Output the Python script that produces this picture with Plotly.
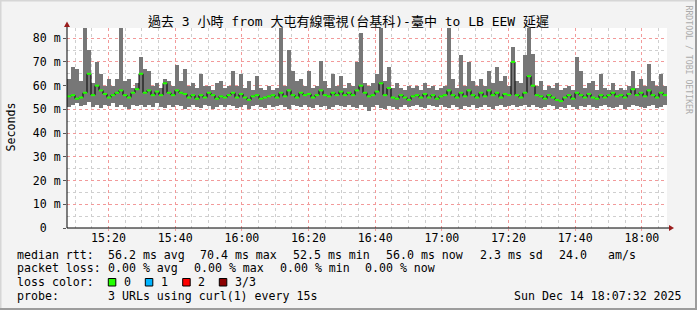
import pandas as pd
import plotly.graph_objects as go

# ---------------- data ----------------
start_time = "2025-12-14 15:07:32"
step_seconds = 72
title_text = "過去 3 小時 from 大屯有線電視(台基科)-臺中 to LB EEW 延遲"

rtt_max_ms = [
    63, 68, 67, 62, 84.5, 75, 61, 70, 65, 60,
    63, 60, 63, 84.5, 62, 63, 59, 61, 72, 67,
    66, 60, 61, 59, 63, 62, 60, 68.5, 62, 67,
    60, 61, 59, 65, 60, 60, 58, 61, 62, 59,
    60, 66, 60, 65, 59, 62, 58, 64, 59, 58,
    60, 58, 59, 84.5, 60, 75, 66, 62, 63, 60,
    66, 59, 60, 70.5, 62, 59, 65, 60, 64, 59,
    61, 60, 70, 82, 61, 60, 61, 65, 84.5, 62,
    68, 59, 61, 59, 58, 60, 59, 60, 58, 61,
    59, 60, 58, 59, 60, 84.5, 63, 59, 73, 60,
    70, 62, 60, 63, 60, 66, 61, 68, 62, 64,
    60, 76.5, 62, 61, 73, 84.5, 73.5, 60, 62, 58,
    60, 59, 61, 58, 59, 60, 58, 72, 66, 59,
    61, 62, 58, 65, 59, 58, 61, 58, 59, 58,
    60, 66, 59, 63, 60, 69, 62, 60, 65, 60,
]
rtt_min_ms = [
    51, 52, 52.5, 51.5, 52, 53, 51, 52, 50.5, 52,
    51.5, 52.5, 51, 52, 51, 50, 52, 51.5, 52, 51,
    52, 51, 52.5, 51, 50.5, 52, 51, 52, 51.5, 50,
    51, 52, 51, 50.5, 52, 51.5, 50, 51, 52, 51,
    52, 51.5, 50.5, 51, 52, 50, 51.5, 52, 51, 50.5,
    52, 51, 51.5, 52, 51, 50, 52, 51.5, 51, 52,
    51, 50.5, 52, 51, 51.5, 50, 51, 52, 51.5, 51,
    52, 51, 50.5, 52, 51, 49.5, 51, 52, 50.5, 50,
    51.5, 51, 50, 51, 52, 51, 51.5, 52, 51, 50.5,
    52, 51.5, 51, 52, 51, 50.5, 52, 51, 50, 51.5,
    51, 52, 50.5, 51, 52, 51, 50, 51.5, 52, 51,
    51.5, 52, 51, 51.5, 52, 51, 52, 51, 50.5, 51,
    52, 51.5, 50, 51, 50.5, 52, 51, 50, 51.5, 51,
    52, 51, 50.5, 51.5, 52, 51, 50.5, 51, 52, 50,
    51, 52, 51.5, 51, 50.5, 51.5, 52, 50.5, 51, 52,
]
rtt_median_ms = [
    55.5, 56, 54.5, 55, 57, 65, 56, 60, 58, 56.5,
    55, 56, 57, 58, 56, 55, 57, 58.5, 65, 57,
    58, 56, 57.5, 56, 61, 57, 56, 58, 57, 56.5,
    55, 56, 54.5, 56, 55, 57, 56, 54.5, 55.5, 55,
    56, 57, 55, 56.5, 55, 54, 55.5, 56, 54.5, 55,
    55.5, 56, 55, 57, 55.5, 58, 56, 55, 57, 56,
    56.5, 55, 56, 58, 56, 55.5, 57, 56, 57.5, 56,
    57, 56, 58, 60, 57, 55.5, 56, 57.5, 61, 56,
    59, 55, 54.5, 56, 55, 54, 55.5, 56, 55, 56.5,
    55, 56, 54.5, 55.5, 56, 58, 56, 55, 57, 55.5,
    58, 56, 55, 57, 55.5, 58, 56, 57, 55, 56.5,
    56, 70, 56, 55, 57, 64, 60, 56, 55.5, 54.5,
    56, 55, 54, 53.5, 55, 56, 54.5, 57, 56, 55,
    56.5, 55, 54.5, 56, 55, 56, 57, 55.5, 56, 55,
    56.5, 58.5, 56, 57, 55.5, 58, 56, 55, 57, 56,
]
y_tick_values = [0, 10, 20, 30, 40, 50, 60, 70, 80]
y_tick_labels = ["0\u00a0\u00a0", "10 m", "20 m", "30 m", "40 m", "50 m", "60 m", "70 m", "80 m"]

legend_rtt = [("median rtt:", 16), ("56.2 ms avg", 106.5), ("70.4 ms max", 199.2),
              ("52.5 ms min", 292), ("56.0 ms now", 385.2), ("2.3 ms sd", 478.5),
              ("24.0", 557.5), ("am/s", 606.6)]
legend_loss = [("packet loss:", 16), ("0.00 % avg", 106.5), ("0.00 % max", 192.5),
               ("0.00 % min", 278.5), ("0.00 % now", 364.2)]
loss_colors = [("0", "#22ff00"), ("1", "#00b4ff"), ("2", "#ff0000"), ("3/3", "#8c0000")]
loss_box_x = [108.3, 145.3, 182.7, 219.3]
loss_label_x = [122.6, 160, 197.3, 234.3]
probe_text = "3 URLs using curl(1) every 15s"
date_text = "Sun Dec 14 18:07:32 2025"

# ---------------- geometry helpers ----------------
W, H = 697, 310
PL, PR, PT, PB = 67, 667, 28, 228


def fx(px):
    return (px - PL) / (PR - PL)


def fy(py):
    return (PB - py) / (PB - PT)


n = len(rtt_max_ms)
t0 = pd.Timestamp(start_time)
centers = [t0 + pd.Timedelta(seconds=step_seconds * i + step_seconds / 2) for i in range(n)]
t_end = t0 + pd.Timedelta(seconds=step_seconds * n)

FONT = "DejaVu Sans Mono, Noto Sans CJK TC, monospace"
FS = 11.6

fig = go.Figure()
fig.add_trace(go.Bar(
    x=centers,
    y=[mx - mn for mx, mn in zip(rtt_max_ms, rtt_min_ms)],
    base=rtt_min_ms,
    width=step_seconds * 1000,
    marker=dict(color="#777777", line=dict(width=0)),
    hoverinfo="skip",
))
fig.add_trace(go.Scatter(
    x=centers, y=rtt_median_ms, mode="lines",
    line=dict(color="#000000", width=1, shape="hvh"),
    hoverinfo="skip",
))
fig.add_trace(go.Scatter(
    x=centers, y=rtt_median_ms, mode="markers",
    marker=dict(symbol="line-ew", size=3, line=dict(width=2, color="#22ff00")),
    hoverinfo="skip",
))

fig.update_layout(
    width=W, height=H,
    margin=dict(l=PL, r=W - PR, t=PT, b=H - PB),
    paper_bgcolor="#f3f3f3",
    plot_bgcolor="#ffffff",
    showlegend=False,
    bargap=0,
    font=dict(family=FONT, size=FS, color="#000000"),
)
fig.update_xaxes(
    type="date",
    range=[t0, t_end],
    tick0="2025-12-14 15:00:00",
    dtick=20 * 60 * 1000,
    tickformat="%H:%M",
    showgrid=True, gridcolor="#f29a9a", griddash="dot", gridwidth=1,
    minor=dict(dtick=5 * 60 * 1000, tick0="2025-12-14 15:00:00", showgrid=True,
               gridcolor="#cfcfcf", griddash="dot", gridwidth=1),
    ticks="outside", ticklen=2, tickcolor="#f29a9a",
    ticklabelstandoff=-3,
    showline=False, zeroline=False,
    tickfont=dict(family=FONT, size=FS),
)
fig.update_yaxes(
    range=[0, 84.3],
    tickvals=y_tick_values, ticktext=y_tick_labels,
    showgrid=True, gridcolor="#f29a9a", griddash="dot", gridwidth=1,
    minor=dict(dtick=5, tick0=0, showgrid=True, gridcolor="#cfcfcf", griddash="dot", gridwidth=1),
    ticks="outside", ticklen=3, tickcolor="#555555",
    showline=False, zeroline=False,
    tickfont=dict(family=FONT, size=FS),
)

shapes = []
# axes with arrows
shapes.append(dict(type="line", xref="paper", yref="paper", x0=fx(PL), x1=fx(670), y0=fy(228), y1=fy(228),
                   line=dict(color="#000000", width=1)))
shapes.append(dict(type="line", xref="paper", yref="paper", x0=fx(67), x1=fx(67), y0=fy(228), y1=fy(25),
                   line=dict(color="#000000", width=1)))
shapes.append(dict(type="path", xref="paper", yref="paper",
                   path=f"M {fx(669)} {fy(225)} L {fx(674)} {fy(228)} L {fx(669)} {fy(231)} Z",
                   fillcolor="#9a1c1c", line=dict(width=0)))
shapes.append(dict(type="path", xref="paper", yref="paper",
                   path=f"M {fx(64)} {fy(27)} L {fx(67)} {fy(21.5)} L {fx(70)} {fy(27)} Z",
                   fillcolor="#9a1c1c", line=dict(width=0)))
# frame
shapes.append(dict(type="line", xref="paper", yref="paper", x0=fx(0), x1=fx(697), y0=fy(0.5), y1=fy(0.5),
                   line=dict(color="#d6d6d6", width=2)))
shapes.append(dict(type="line", xref="paper", yref="paper", x0=fx(0.5), x1=fx(0.5), y0=fy(0), y1=fy(310),
                   line=dict(color="#d6d6d6", width=2)))
shapes.append(dict(type="line", xref="paper", yref="paper", x0=fx(0), x1=fx(697), y0=fy(309), y1=fy(309),
                   line=dict(color="#9c9c9c", width=2)))
shapes.append(dict(type="line", xref="paper", yref="paper", x0=fx(696), x1=fx(696), y0=fy(0), y1=fy(310),
                   line=dict(color="#9c9c9c", width=2)))
# loss colour boxes
for (lab, col), bx in zip(loss_colors, loss_box_x):
    shapes.append(dict(type="rect", xref="paper", yref="paper",
                       x0=fx(bx), x1=fx(bx + 7.5), y0=fy(278.5), y1=fy(286),
                       fillcolor=col, line=dict(color="#000000", width=1)))
fig.update_layout(shapes=shapes)

ann = []


def add_text(text, px, py, size=FS, color="#000000", xanchor="left", angle=0):
    ann.append(dict(text=text, x=fx(px), y=fy(py), xref="paper", yref="paper",
                    xanchor=xanchor, yanchor="middle", showarrow=False, borderpad=0,
                    textangle=angle, font=dict(family=FONT, size=size, color=color)))


add_text(title_text, 348, 21, size=13, xanchor="center")
add_text("Seconds", 10.5, 127, angle=-90, xanchor="center")
add_text("RRDTOOL / TOBI OETIKER", 688.5, 60, size=8.2, color="#ababab", xanchor="center", angle=90)
for t, x in legend_rtt:
    add_text(t, x, 254.5)
for t, x in legend_loss:
    add_text(t, x, 268.3)
add_text("loss color:", 16, 282.2)
for (lab, col), lx in zip(loss_colors, loss_label_x):
    add_text(lab, lx, 282.2)
add_text("probe:", 16, 295.8)
add_text(probe_text, 106.5, 295.8)
add_text(date_text, 512.6, 295.8)
fig.update_layout(annotations=ann)

fig.write_html("out.html")
